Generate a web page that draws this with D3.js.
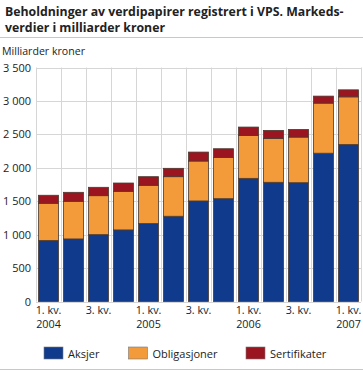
<!DOCTYPE html>
<html>
<head>
<meta charset="utf-8">
<script src="https://cdn.jsdelivr.net/npm/d3@7"></script>
<style>
  body { margin: 0; background: #fff; }
  svg text { font-family: "Open Sans", sans-serif; fill: #222; }
</style>
</head>
<body>
<div id="chart"></div>
<script>
var quarters = ["1. kv. 2004", "2. kv. 2004", "3. kv. 2004", "4. kv. 2004",
                "1. kv. 2005", "2. kv. 2005", "3. kv. 2005", "4. kv. 2005",
                "1. kv. 2006", "2. kv. 2006", "3. kv. 2006", "4. kv. 2006",
                "1. kv. 2007"];
var aksjer = [911, 936, 1000, 1071, 1165, 1275, 1504, 1538, 1842, 1783, 1777, 2218, 2347];
var obligasjoner = [558, 563, 583, 577, 573, 592, 597, 618, 642, 657, 682, 749, 714];
var sertifikater = [120, 134, 125, 124, 129, 125, 134, 129, 125, 119, 115, 105, 105];
var seriesNames = ["Aksjer", "Obligasjoner", "Sertifikater"];
var yTicks = [0, 500, 1000, 1500, 2000, 2500, 3000, 3500];

var colors = ["#103b8d", "#f39a3b", "#9b1520"];
var width = 363, height = 370;
var plotLeft = 36, plotRight = 361, plotTop = 67.5, plotBottom = 301.5;

var svg = d3.select("#chart").append("svg")
	.attr("width", width)
	.attr("height", height);

// title
svg.append("text").attr("x", 5).attr("y", 16)
	.style("font-size", "12.3px").style("font-weight", "bold")
	.text("Beholdninger av verdipapirer registrert i VPS. Markeds-");
svg.append("text").attr("x", 5).attr("y", 31.5)
	.style("font-size", "12.3px").style("font-weight", "bold")
	.text("verdier i milliarder kroner");
svg.append("line").attr("x1", 0).attr("x2", width).attr("y1", 37.5).attr("y2", 37.5)
	.attr("stroke", "#c8c8c8").attr("stroke-width", 1);

svg.append("text").attr("x", 2).attr("y", 55)
	.style("font-size", "10.6px").text("Milliarder kroner");

var x = d3.scaleBand().domain(quarters).range([plotLeft, plotRight]).paddingInner(0.2).paddingOuter(0.1);
var y = d3.scaleLinear().domain([0, 3500]).range([plotBottom, plotTop]);

// grid
svg.append("g").selectAll("line").data(yTicks).join("line")
	.attr("x1", plotLeft).attr("x2", plotRight)
	.attr("y1", function(d) { return Math.round(y(d)) + 0.5; })
	.attr("y2", function(d) { return Math.round(y(d)) + 0.5; })
	.attr("stroke", "#d6d6d6").attr("stroke-width", 1);

var step = x.step();
var vlines = d3.range(quarters.length + 1);
svg.append("g").selectAll("line").data(vlines).join("line")
	.attr("x1", function(i) { return Math.round(plotLeft + i * step) + 0.5; })
	.attr("x2", function(i) { return Math.round(plotLeft + i * step) + 0.5; })
	.attr("y1", plotTop).attr("y2", plotBottom)
	.attr("stroke", "#d6d6d6").attr("stroke-width", 1);

// y axis labels
var yAxis = d3.axisLeft(y).tickValues(yTicks).tickSize(0).tickPadding(5)
	.tickFormat(function(d) { return d3.format(",")(d).replace(/,/g, " "); });
var gy = svg.append("g").attr("transform", "translate(" + plotLeft + ",0)").call(yAxis);
gy.select(".domain").remove();
gy.selectAll("text").style("font-size", "11px").style("font-family", "'Open Sans', sans-serif").attr("fill", "#222");

// stacked bars
var rows = quarters.map(function(q, i) {
	return { q: q, Aksjer: aksjer[i], Obligasjoner: obligasjoner[i], Sertifikater: sertifikater[i] };
});
var stack = d3.stack().keys(seriesNames)(rows);

svg.append("g").selectAll("g").data(stack).join("g")
	.attr("fill", function(d, i) { return colors[i]; })
	.selectAll("rect").data(function(d) { return d; }).join("rect")
	.attr("x", function(d) { return x(d.data.q); })
	.attr("width", x.bandwidth())
	.attr("y", function(d) { return y(d[1]); })
	.attr("height", function(d) { return y(d[0]) - y(d[1]); })
	.attr("stroke", "#4a3a30").attr("stroke-width", 0.8);

// x labels, every second quarter, year under 1. kv.
var gx = svg.append("g");
quarters.forEach(function(q, i) {
	if (i % 2 != 0) return;
	var cx = x(q) + x.bandwidth() / 2;
	var parts = q.split(" ");
	gx.append("text").attr("x", cx).attr("y", 314).attr("text-anchor", "middle")
		.style("font-size", "10.8px").text(parts[0] + " " + parts[1]);
	if (parts[0] == "1.") {
		gx.append("text").attr("x", cx).attr("y", 327.5).attr("text-anchor", "middle")
			.style("font-size", "10.8px").text(parts[2]);
	}
});

// legend
var legendX = [44, 128.5, 246];
seriesNames.forEach(function(name, i) {
	svg.append("rect").attr("x", legendX[i]).attr("y", 347).attr("width", 19).attr("height", 12)
		.attr("fill", colors[i]).attr("stroke", "#777").attr("stroke-width", 0.6);
	svg.append("text").attr("x", legendX[i] + 24).attr("y", 357.5)
		.style("font-size", "11px").text(name);
});
svg.append("line").attr("x1", 0).attr("x2", width).attr("y1", 369.5).attr("y2", 369.5)
	.attr("stroke", "#c8c8c8").attr("stroke-width", 1);
</script>
</body>
</html>
